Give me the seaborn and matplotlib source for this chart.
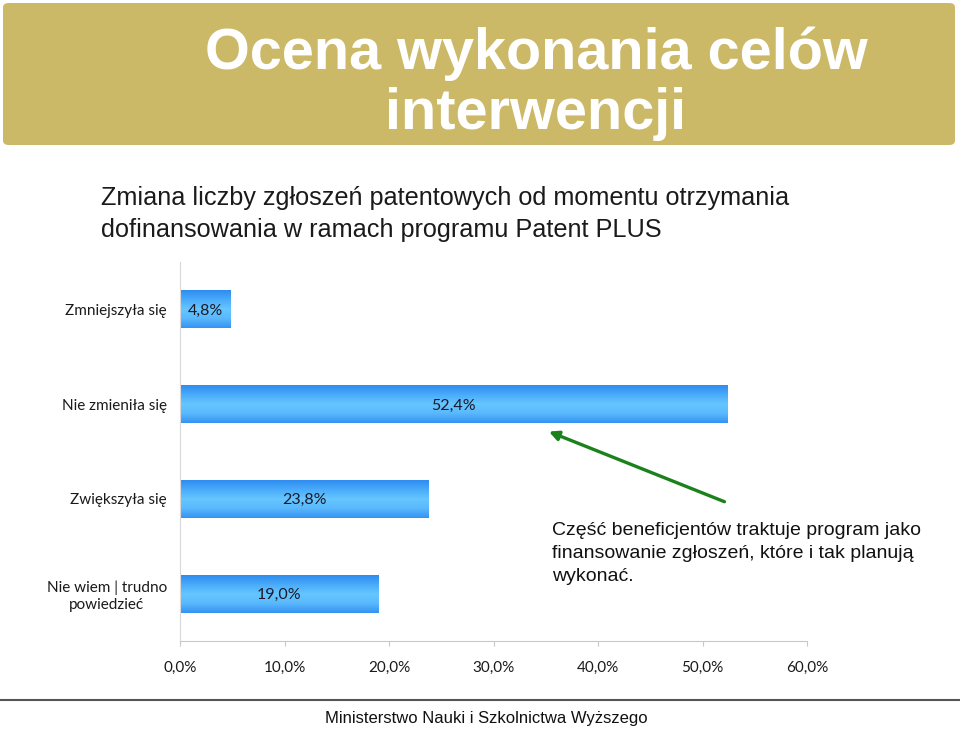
import numpy as np
import pandas as pd
import matplotlib
matplotlib.use("Agg")
import matplotlib.pyplot as plt
from matplotlib import font_manager
from matplotlib.patches import FancyBboxPatch
from matplotlib.colors import LinearSegmentedColormap
from matplotlib.lines import Line2D
import seaborn as sns

# ---- data ----
categories = ["Zmniejszyła się", "Nie zmieniła się", "Zwiększyła się", "Nie wiem | trudno\npowiedzieć"]
values = [4.8, 52.4, 23.8, 19.0]
value_labels = ["4,8%", "52,4%", "23,8%", "19,0%"]
xtick_values = [0, 10, 20, 30, 40, 50, 60]
xtick_labels = ["0,0%", "10,0%", "20,0%", "30,0%", "40,0%", "50,0%", "60,0%"]

title_lines = ["Ocena wykonania celów", "interwencji"]
subtitle = "Zmiana liczby zgłoszeń patentowych od momentu otrzymania\ndofinansowania w ramach programu Patent PLUS"
note = "Część beneficjentów traktuje program jako\nfinansowanie zgłoszeń, które i tak planują\nwykonać."
footer = "Ministerstwo Nauki i Szkolnictwa Wyższego"


def has_font(name):
    try:
        font_manager.findfont(font_manager.FontProperties(family=name), fallback_to_default=False)
        return True
    except Exception:
        return False


narrow = "Liberation Sans Narrow" if has_font("Liberation Sans Narrow") else "Liberation Sans"

sns.set_theme(style="white")
plt.rcParams["font.family"] = ["Lato", "DejaVu Sans"]

df = pd.DataFrame({"cat": categories, "val": values})

fig = plt.figure(figsize=(9.6, 7.3), dpi=100)
fig.patch.set_facecolor("white")

# banner
banner = FancyBboxPatch((3 / 960, 1 - 145 / 730), 952 / 960, 142 / 730,
                        boxstyle="round,pad=0,rounding_size=0.006",
                        transform=fig.transFigure, facecolor="#CCB968",
                        edgecolor="none", zorder=0)
fig.patches.append(banner)
fig.text(536 / 960, 1 - 54 / 730, title_lines[0], ha="center", va="center",
         color="white", fontsize=41.5, fontweight="bold", family=["Liberation Sans", "DejaVu Sans"])
fig.text(536 / 960, 1 - 114 / 730, title_lines[1], ha="center", va="center",
         color="white", fontsize=41.5, fontweight="bold", family=["Liberation Sans", "DejaVu Sans"])

# subtitle
fig.text(101 / 960, 1 - 186 / 730, subtitle, ha="left", va="top", color="#1a1a1a",
         fontsize=18.2, family=[narrow, "DejaVu Sans"], linespacing=1.4)

# axes
ax = fig.add_axes([180 / 960, 89 / 730, 627 / 960, 379 / 730])
sns.barplot(data=df, y="cat", x="val", orient="h", ax=ax, width=0.4,
            color="#3D9BF5", edgecolor="none", saturation=1)

cmap = LinearSegmentedColormap.from_list(
    "barg", ["#2F8CF0", "#4AACFA", "#66C6FF", "#5AB8FD", "#3594F2"])
grad = np.linspace(0, 1, 64).reshape(-1, 1)
for p in ax.patches:
    x0, y0 = p.get_x(), p.get_y()
    w, h = p.get_width(), p.get_height()
    im = ax.imshow(grad, cmap=cmap, aspect="auto", extent=[x0, x0 + w, y0 + h, y0],
                   origin="upper", zorder=p.get_zorder() + 0.1)
    im.set_clip_path(p)

for i, (v, lab) in enumerate(zip(values, value_labels)):
    ax.text(v / 2, i, lab, ha="center", va="center_baseline", fontsize=11.5,
            color="#1a1a2a", zorder=5)

ax.set_xlim(0, 60)
ax.set_ylim(len(categories) - 0.5, -0.5)
ax.set_xlabel("")
ax.set_ylabel("")

ax.set_xticks(xtick_values)
ax.set_xticklabels(xtick_labels, fontsize=11, color="#1a1a1a")
ax.set_yticks(range(len(categories)))
ax.set_yticklabels(categories, fontsize=11, color="#1a1a1a")
for t in ax.get_yticklabels():
    t.set_multialignment("center")
ax.set_yticks(np.arange(-0.5, len(categories), 1.0), minor=True)

ax.tick_params(axis="y", which="major", length=0, pad=9.5)
ax.tick_params(axis="y", which="minor", length=5, width=0.8, color="#D0D0D0", direction="out")
ax.tick_params(axis="x", which="major", length=3.5, width=0.8, color="#C8C8C8",
               direction="out", pad=11, bottom=True)

for s in ["top", "right"]:
    ax.spines[s].set_visible(False)
ax.spines["left"].set_color("#D9D9D9")
ax.spines["bottom"].set_color("#C8C8C8")
ax.spines["left"].set_linewidth(0.8)
ax.spines["bottom"].set_linewidth(0.8)
ax.grid(False)
ax.set_facecolor("none")

# arrow annotation
ax.annotate("", xy=(35.3, 1.29), xytext=(52.1, 2.03), xycoords="data",
            arrowprops=dict(arrowstyle="-|>", color="#1B821B", lw=2.4,
                            mutation_scale=14, shrinkA=0, shrinkB=0),
            annotation_clip=False, zorder=6)

fig.text(552 / 960, 1 - 522 / 730, note, ha="left", va="top", fontsize=14,
         color="#111111", family=["Liberation Sans", "DejaVu Sans"], linespacing=1.45)

# footer
fig.add_artist(Line2D([0, 1], [1 - 700 / 730, 1 - 700 / 730], transform=fig.transFigure,
                      color="#555555", lw=1.5))
fig.text(486 / 960, 1 - 718 / 730, footer, ha="center", va="center", fontsize=12,
         color="#111111", family=[narrow, "DejaVu Sans"])

fig.savefig("out.png", dpi=100)
